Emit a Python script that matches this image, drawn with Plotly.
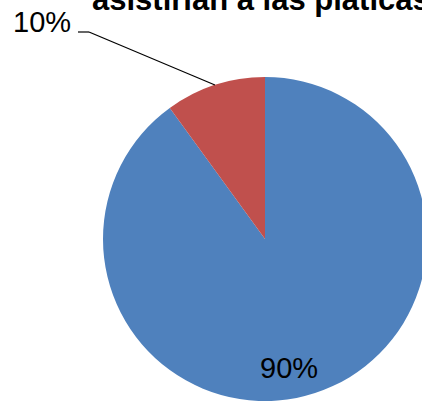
import math
import plotly.graph_objects as go

# Data
labels = ["Sí", "No"]
values = [90, 10]
pct_labels = ["90%", "10%"]
colors = ["#4F81BD", "#C0504D"]
title_text = "asistirían a las pláticas"

# body margin removed in post_script; figure a bit wider than the window
OFF = 0
W, H = 445, 402
def px(x):
    return (x - OFF) / W
def py(y):
    return 1 - (y - OFF) / H

# pie geometry (window pixels)
R = 162
CX, CY = 265, 239
dom_x = [px(CX - R), px(CX + R)]
dom_y = [max(0.0, py(CY + R)), py(CY - R)]

fig = go.Figure(go.Pie(
    labels=labels, values=values, sort=False, direction="clockwise", rotation=0,
    marker=dict(colors=colors, line=dict(width=0)),
    textinfo="none", hoverinfo="none", showlegend=False,
    domain=dict(x=dom_x, y=dom_y),
))

total = sum(values)
mids = []
acc = 0
for v in values:
    mids.append(360 * (acc + v / 2) / total)
    acc += v

# leader line for the small slice ends on the arc at its mid-angle
th = math.radians(mids[1])
ex, ey = CX + R * math.sin(th), CY - R * math.cos(th)
fig.add_shape(type="line", xref="paper", yref="paper",
              x0=px(78), y0=py(32), x1=px(89), y1=py(32),
              line=dict(color="black", width=1.2))
fig.add_shape(type="line", xref="paper", yref="paper",
              x0=px(89), y0=py(32), x1=px(ex), y1=py(ey),
              line=dict(color="black", width=1.2))

font = "Liberation Sans, Arial, sans-serif"
fig.add_annotation(text=pct_labels[1], xref="paper", yref="paper",
                   x=px(41.5), y=py(22.5), xanchor="center", yanchor="middle",
                   showarrow=False, font=dict(family=font, size=29, color="black"))
fig.add_annotation(text=pct_labels[0], xref="paper", yref="paper",
                   x=px(288.5), y=py(367.5), xanchor="center", yanchor="middle",
                   showarrow=False, font=dict(family=font, size=29, color="black"))
fig.add_annotation(text="<b>" + title_text + "</b>", xref="paper", yref="paper",
                   x=px(89.5), y=py(-0.5), xanchor="left", yanchor="middle",
                   showarrow=False, font=dict(family=font, size=31, color="black"))

fig.update_layout(width=W, height=H, margin=dict(l=0, r=0, t=0, b=0),
                  paper_bgcolor="white", plot_bgcolor="white")
fig.write_html("out.html", config={"displayModeBar": False},
               post_script="document.body.style.margin='0';")
